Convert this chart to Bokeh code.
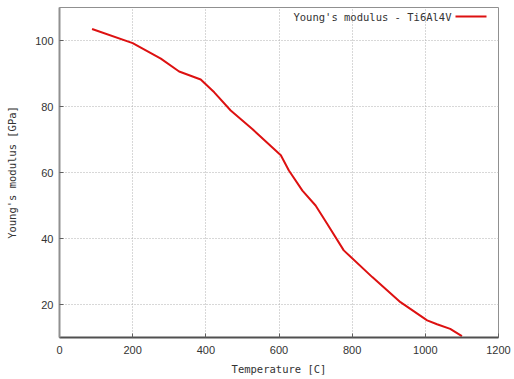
from bokeh.plotting import figure
from bokeh.models import Range1d, FixedTicker, Label, BoxAnnotation
from bokeh.embed import file_html
from bokeh.resources import INLINE

# data
temperature = [89, 200, 277, 327, 386, 423, 468, 527, 605, 627, 664, 700, 732, 777, 855, 932, 1005, 1032, 1068, 1100]
modulus = [103.5, 99.2, 94.5, 90.6, 88.2, 84.3, 78.8, 73.2, 65.2, 60.6, 54.5, 50.0, 44.4, 36.4, 28.3, 20.7, 15.2, 14.0, 12.6, 10.4]
x_ticks = [0, 200, 400, 600, 800, 1000, 1200]
y_ticks = [20, 40, 60, 80, 100]
series_name = "Young's modulus - Ti6Al4V"
x_label = "Temperature [C]"
y_label = "Young's modulus [GPa]"

RED = "#dd1111"
MONO = "DejaVu Sans Mono"
SANS = "Liberation Sans"

p = figure(width=514, height=379, output_backend="svg", toolbar_location=None,
           x_range=Range1d(0, 1200), y_range=Range1d(10, 110),
           min_border_left=59, min_border_right=16, min_border_top=7, min_border_bottom=42)
p.background_fill_color = "white"
p.border_fill_color = "white"
p.outline_line_color = "#909090"
p.outline_line_width = 1

p.line(temperature, modulus, line_color=RED, line_width=2)

for ax in (p.xaxis[0], p.yaxis[0]):
    ax.major_tick_in = 4
    ax.major_tick_out = 0
    ax.minor_tick_line_color = None
    ax.major_tick_line_color = "#606060"
    ax.major_label_text_font = SANS
    ax.major_label_text_font_size = "11px"
    ax.major_label_text_color = "#333333"
    ax.axis_label_text_font = MONO
    ax.axis_label_text_font_size = "10.5px"
    ax.axis_label_text_font_style = "normal"
    ax.axis_label_text_color = "#333333"

p.xaxis[0].ticker = FixedTicker(ticks=x_ticks)
p.yaxis[0].ticker = FixedTicker(ticks=y_ticks)
p.xaxis[0].axis_label = x_label
p.yaxis[0].axis_label = y_label
p.xaxis[0].axis_line_color = "#505050"
p.xaxis[0].axis_line_width = 2
p.yaxis[0].axis_line_color = "#909090"
p.yaxis[0].axis_line_width = 2
p.xaxis[0].major_label_standoff = 8
p.yaxis[0].major_label_standoff = 6
p.xaxis[0].axis_label_standoff = 6
p.yaxis[0].axis_label_standoff = 14

p.xgrid.ticker = FixedTicker(ticks=x_ticks)
p.ygrid.ticker = FixedTicker(ticks=y_ticks)
for g in (p.xgrid[0], p.ygrid[0]):
    g.grid_line_color = "#b0b0b0"
    g.grid_line_dash = "1 2"
    g.grid_line_width = 1

# gnuplot-style key: text then line sample, top-right
p.add_layout(Label(x=392, y=321, x_units="screen", y_units="screen", text=series_name,
                   text_font=MONO, text_font_size="10.5px", text_color="#333333",
                   text_align="right", text_baseline="middle"))
p.add_layout(BoxAnnotation(left=396, right=427, bottom=320, top=322,
                           left_units="screen", right_units="screen",
                           bottom_units="screen", top_units="screen",
                           fill_color=RED, fill_alpha=1, line_color=None))

open("out.html", "w").write(file_html(p, INLINE))
